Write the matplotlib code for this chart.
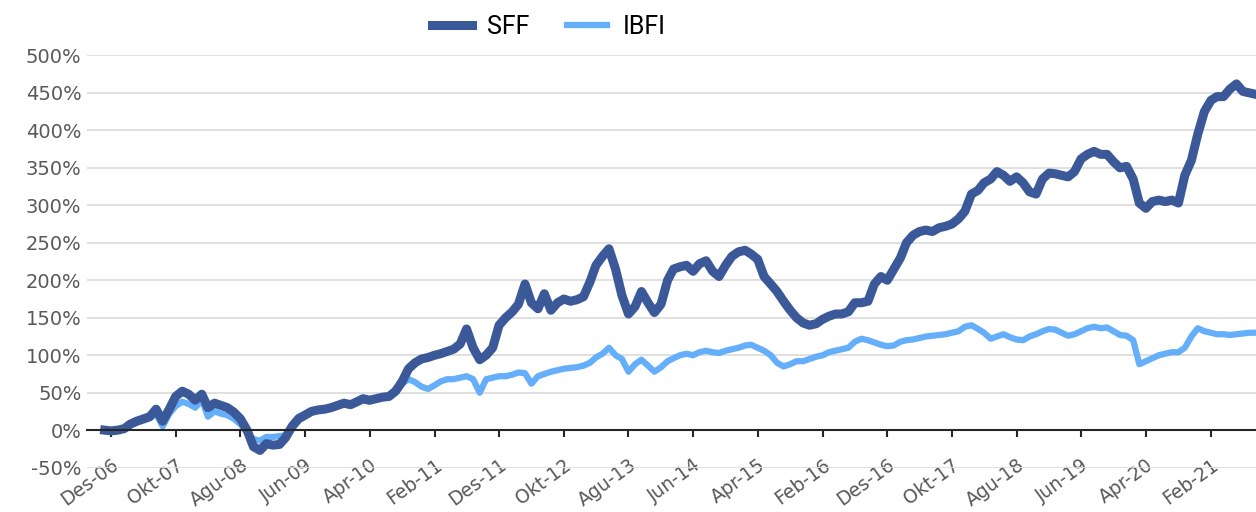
import matplotlib
matplotlib.use("Agg")
import matplotlib.pyplot as plt
import pandas as pd

# monthly readings, starting Nov 2006 (values in %)
start_month = "2006-11-01"
sff = [0, -1, 0, 2, 8, 12, 15, 18, 28, 12, 28, 45, 52, 48, 40, 48, 30, 36, 33, 30,
       24, 15, 0, -22, -27, -18, -20, -19, -10, 5, 15, 20, 25, 27, 28, 30, 33, 36, 34, 38,
       42, 40, 42, 44, 45, 52, 65, 82, 90, 95, 97, 100, 102, 105, 108, 115, 135, 110, 94, 100,
       110, 140, 150, 158, 168, 195, 170, 162, 182, 160, 170, 175, 172, 174, 178, 198, 220, 232, 242, 215,
       180, 155, 165, 185, 170, 157, 168, 200, 215, 218, 220, 212, 222, 226, 212, 205, 220, 232, 238, 240,
       235, 228, 205, 195, 185, 172, 160, 150, 143, 140, 142, 148, 152, 155, 155, 158, 170, 170, 172, 195,
       205, 200, 215, 230, 250, 260, 265, 267, 265, 270, 272, 275, 282, 292, 315, 320, 330, 335, 345, 340,
       332, 338, 330, 318, 315, 335, 343, 342, 340, 338, 345, 362, 368, 372, 368, 368, 358, 350, 352, 335,
       303, 296, 305, 307, 305, 307, 303, 340, 360, 395, 425, 440, 445, 445, 455, 462, 452, 450, 448]
ibfi = [0, -1, 0, 1, 6, 10, 13, 16, 22, 5, 22, 32, 38, 35, 30, 40, 18, 25, 22, 20,
        15, 8, -3, -12, -14, -9, -9, -8, -7, 8, 18, 22, 26, 28, 29, 30, 33, 36, 34, 37,
        40, 38, 42, 44, 46, 52, 62, 68, 64, 58, 55, 60, 65, 68, 68, 70, 72, 68, 50, 68,
        70, 72, 72, 74, 77, 76, 62, 72, 75, 78, 80, 82, 83, 84, 86, 90, 97, 102, 110, 100,
        95, 78, 88, 94, 86, 78, 84, 92, 96, 100, 102, 100, 104, 106, 104, 103, 106, 108, 110, 113,
        114, 110, 106, 100, 90, 85, 88, 92, 92, 95, 98, 100, 104, 106, 108, 110, 118, 122, 120, 117,
        114, 112, 113, 118, 120, 121, 123, 125, 126, 127, 128, 130, 132, 138, 140, 135, 130, 122, 125, 128,
        124, 121, 120, 125, 128, 132, 135, 134, 130, 126, 128, 132, 136, 138, 136, 137, 132, 127, 126, 120,
        88, 92, 96, 100, 102, 104, 104, 110, 125, 136, 132, 130, 128, 128, 127, 128, 129, 130, 130]

tick_labels = ["Des-06", "Okt-07", "Agu-08", "Jun-09", "Apr-10", "Feb-11", "Des-11",
               "Okt-12", "Agu-13", "Jun-14", "Apr-15", "Feb-16", "Des-16", "Okt-17",
               "Agu-18", "Jun-19", "Apr-20", "Feb-21"]
y_ticks = list(range(-50, 501, 50))

dates = pd.date_range(start_month, periods=len(sff), freq="MS")
tick_dates = pd.date_range("2006-12-01", periods=len(tick_labels), freq="10MS")

dark = "#3B5998"
light = "#64AEFA"
gray = "#595959"

fig = plt.figure(figsize=(12.56, 5.12), dpi=100)
ax = fig.add_axes([0.0693, 0.0859, 0.9307, 0.8066])

ax.plot(dates, ibfi, color=light, lw=4.5, label="IBFI", zorder=3)
ax.plot(dates, sff, color=dark, lw=6.5, label="SFF", zorder=4)

ax.set_ylim(-50.5, 500.5)
ax.set_xlim(pd.Timestamp("2006-08-10"), pd.Timestamp("2021-09-01"))
ax.set_yticks(y_ticks)
ax.set_yticklabels([f"{v}%" for v in y_ticks])
ax.grid(axis="y", color="#DDDDDD", lw=1.3)
ax.set_axisbelow(True)

for s in ["top", "right", "left"]:
    ax.spines[s].set_visible(False)
ax.spines["bottom"].set_position(("data", 0))
ax.spines["bottom"].set_color("#262626")
ax.spines["bottom"].set_linewidth(1.5)
ax.spines["bottom"].set_zorder(5)

ax.set_xticks(tick_dates)
ax.set_xticklabels(tick_labels, rotation=36, ha="right", va="top", rotation_mode="anchor")
ax.tick_params(axis="x", direction="out", length=5, width=1.5, color="#262626",
               pad=13, labelsize=13.5, labelcolor=gray)
ax.tick_params(axis="y", length=0, pad=4, labelsize=14, labelcolor=gray)

handles, labels = ax.get_legend_handles_labels()
fig.legend(handles[::-1], labels[::-1], loc="upper center", bbox_to_anchor=(0.437, 1.015),
           ncol=2, frameon=False, handlelength=1.6, handletextpad=0.6, columnspacing=1.5,
           prop={"family": "Roboto", "size": 18})

fig.savefig("out.png", dpi=100)
